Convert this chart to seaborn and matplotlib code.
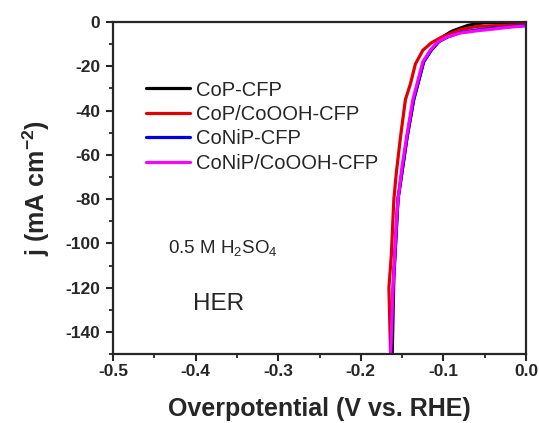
import numpy as np
import pandas as pd
import seaborn as sns
from matplotlib import pyplot as plt

# LSV curves: overpotential (V) vs current density (mA cm-2)
cop_x = [0.0, -0.05, -0.06, -0.07, -0.08, -0.09, -0.10, -0.106, -0.115,
         -0.124, -0.131, -0.136, -0.144, -0.155, -0.160, -0.162]
cop_j = [-0.2, -0.3, -0.8, -1.5, -2.8, -4.2, -6.5, -9.0, -12.8,
         -18.0, -28.0, -35.0, -52.0, -80.0, -115.0, -150.0]

cop_oh_x = [0.0, -0.03, -0.06, -0.08, -0.09, -0.102, -0.115, -0.125, -0.134,
            -0.140, -0.146, -0.152, -0.157, -0.160, -0.161, -0.163, -0.166,
            -0.165, -0.164]
cop_oh_j = [-1.2, -1.5, -2.0, -3.5, -5.0, -6.8, -9.5, -12.8, -19.0,
            -28.0, -35.0, -52.0, -68.0, -80.0, -88.0, -105.0, -120.0,
            -135.0, -150.0]

conip_x = [0.0, -0.04, -0.06, -0.08, -0.095, -0.106, -0.115, -0.124, -0.131,
           -0.136, -0.144, -0.155, -0.161, -0.164]
conip_j = [-1.5, -2.8, -3.6, -4.8, -6.8, -9.0, -12.8, -18.0, -28.0,
           -35.0, -52.0, -80.0, -120.0, -150.0]

conip_oh_x = [0.0, -0.02, -0.04, -0.06, -0.08, -0.096, -0.107, -0.116, -0.125,
              -0.132, -0.137, -0.1446, -0.150, -0.155, -0.1566, -0.161, -0.164]
conip_oh_j = [-1.8, -2.3, -3.2, -4.0, -5.0, -6.8, -9.0, -12.8, -18.0,
              -28.0, -35.0, -52.0, -65.0, -80.0, -88.0, -120.0, -150.0]

labels = ["CoP-CFP", "CoP/CoOOH-CFP", "CoNiP-CFP", "CoNiP/CoOOH-CFP"]
colors = ["black", "#e00000", "#0000e0", "#ff00ff"]
xs = [cop_x, cop_oh_x, conip_x, conip_oh_x]
js = [cop_j, cop_oh_j, conip_j, conip_oh_j]

xticks = [-0.5, -0.4, -0.3, -0.2, -0.1, 0.0]
yticks = [0, -20, -40, -60, -80, -100, -120, -140]

frames = []
for lab, x, j in zip(labels, xs, js):
    frames.append(pd.DataFrame({"E": x, "j": j, "sample": lab}))
df = pd.concat(frames, ignore_index=True)

sns.set_style("ticks")
plt.rcParams["font.family"] = ["Liberation Sans", "DejaVu Sans"]
plt.rcParams["axes.unicode_minus"] = False
plt.rcParams["mathtext.fontset"] = "custom"
plt.rcParams["mathtext.rm"] = "Liberation Sans"
plt.rcParams["mathtext.bf"] = "Liberation Sans:bold"

fig = plt.figure(figsize=(5.39, 4.23), dpi=100)
ax = fig.add_axes([0.2096, 0.163, 0.7664, 0.785])

sns.lineplot(data=df, x="E", y="j", hue="sample", hue_order=labels,
             palette=dict(zip(labels, colors)), sort=False, estimator=None,
             lw=2.3, ax=ax)

ax.set_xlim(-0.5, 0.0)
ax.set_ylim(-150, 0)
ax.set_xticks(xticks)
ax.set_xticklabels([f"{t:.1f}" for t in xticks])
ax.set_yticks(yticks)
ax.set_yticklabels([str(t) for t in yticks])
ax.set_xticks(np.arange(-0.45, 0, 0.1), minor=True)
ax.set_yticks([-10, -30, -50, -70, -90, -110, -130, -150], minor=True)

for s in ax.spines.values():
    s.set_linewidth(1.6)
ax.tick_params(which="major", direction="out", length=5, width=1.5,
               labelsize=12.5, pad=2, top=False, right=False)
ax.tick_params(axis="y", which="major", pad=4)
ax.tick_params(which="minor", direction="out", length=3, width=1.3,
               top=False, right=False)
for t in ax.get_xticklabels() + ax.get_yticklabels():
    t.set_fontweight("bold")

ax.set_xlabel("Overpotential (V vs. RHE)", fontsize=18, fontweight="bold",
              labelpad=13)
ax.set_ylabel(r"j (mA cm$^{\mathbf{-2}}$)", fontsize=18, fontweight="bold",
              labelpad=10)

ax.text(-0.433, -104.8, r"0.5 M H$_2$SO$_4$", fontsize=13.5)
ax.text(-0.403, -130, "HER", fontsize=17.5)

ax.legend(loc="upper left", bbox_to_anchor=(0.06, 0.848), frameon=False,
          fontsize=14.5, handlelength=2.2, handletextpad=0.3,
          labelspacing=0.27, borderaxespad=0)

plt.savefig("out.png", dpi=100)
